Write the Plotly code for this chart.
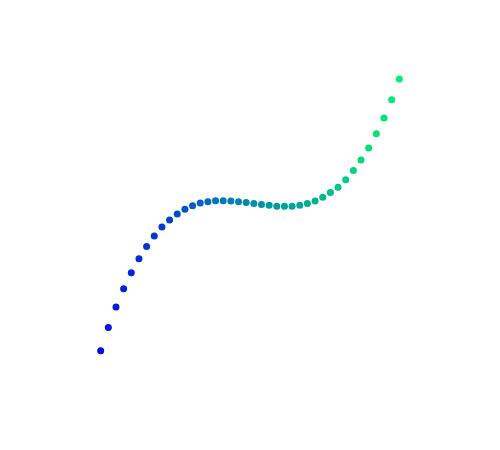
import plotly.graph_objects as go

x_vals = [0, 1, 2, 3, 4, 5, 6, 7, 8, 9,
          10, 11, 12, 13, 14, 15, 16, 17, 18, 19,
          20, 21, 22, 23, 24, 25, 26, 27, 28, 29,
          30, 31, 32, 33, 34, 35, 36, 37, 38, 39]
y_vals = [-3.99, -3.31, -2.71, -2.17, -1.70, -1.29, -0.93, -0.62, -0.35, -0.15,
          0.03, 0.17, 0.27, 0.35, 0.39, 0.42, 0.42, 0.41, 0.39, 0.37,
          0.34, 0.31, 0.29, 0.26, 0.26, 0.26, 0.29, 0.34, 0.41, 0.52,
          0.66, 0.82, 1.04, 1.31, 1.62, 1.97, 2.39, 2.85, 3.39, 4.00]

scale = [
    [0.0, "rgb(0,15,225)"],
    [0.1, "rgb(0,40,215)"],
    [0.23, "rgb(0,68,205)"],
    [0.33, "rgb(0,100,198)"],
    [0.51, "rgb(0,145,170)"],
    [0.67, "rgb(0,168,150)"],
    [0.8, "rgb(0,200,132)"],
    [0.9, "rgb(0,225,120)"],
    [1.0, "rgb(0,240,120)"],
]

fig = go.Figure(go.Scatter(
    x=x_vals, y=y_vals, mode="markers",
    marker=dict(size=7, color=x_vals, colorscale=scale, showscale=False),
    cliponaxis=False,
))
fig.update_layout(
    width=500, height=450,
    margin=dict(l=72, r=88, t=52, b=88),
    paper_bgcolor="white", plot_bgcolor="white",
    xaxis=dict(visible=False, range=[-2.7, 41.7]),
    yaxis=dict(visible=False, range=[-4.56, 4.56]),
    showlegend=False,
)
fig.write_html("out.html")
